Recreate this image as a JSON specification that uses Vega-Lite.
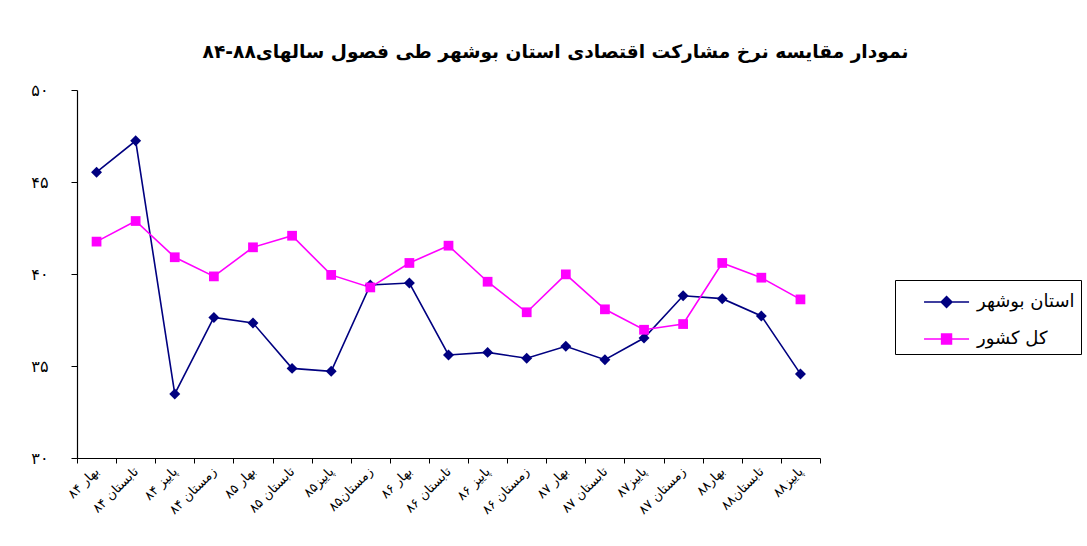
{
  "$schema": "https://vega.github.io/schema/vega-lite/v6.json",
  "autosize": {"type": "none"},
  "padding": {"left": 77, "top": 90, "right": 267, "bottom": 88},
  "width": 743,
  "height": 368,
  "background": "white",
  "config": {
    "font": "DejaVu Sans",
    "view": {"stroke": null},
    "axis": {"grid": false, "domainColor": "#000", "tickColor": "#000", "labelColor": "#000", "domainWidth": 1.2, "tickWidth": 1}
  },
  "title": {
    "text": "نمودار مقایسه نرخ مشارکت اقتصادی استان بوشهر طی فصول سالهای۸۸-۸۴",
    "fontSize": 18.6,
    "fontWeight": "bold",
    "color": "#000",
    "anchor": "middle",
    "dx": 107,
    "offset": 20,
    "font": "DejaVu Sans"
  },
  "data": {
    "values": [
      {"q": "بهار ۸۴", "s": "استان بوشهر", "v": 45.53},
      {"q": "تابستان ۸۴", "s": "استان بوشهر", "v": 47.24},
      {"q": "پاییز ۸۴", "s": "استان بوشهر", "v": 33.48},
      {"q": "زمستان ۸۴", "s": "استان بوشهر", "v": 37.64},
      {"q": "بهار ۸۵", "s": "استان بوشهر", "v": 37.34},
      {"q": "تابستان ۸۵", "s": "استان بوشهر", "v": 34.87},
      {"q": "پاییز۸۵", "s": "استان بوشهر", "v": 34.71},
      {"q": "زمستان۸۵", "s": "استان بوشهر", "v": 39.40},
      {"q": "بهار ۸۶", "s": "استان بوشهر", "v": 39.51},
      {"q": "تابستان ۸۶", "s": "استان بوشهر", "v": 35.60},
      {"q": "پاییز ۸۶", "s": "استان بوشهر", "v": 35.74},
      {"q": "زمستان ۸۶", "s": "استان بوشهر", "v": 35.42},
      {"q": "بهار ۸۷", "s": "استان بوشهر", "v": 36.07},
      {"q": "تابستان ۸۷", "s": "استان بوشهر", "v": 35.34},
      {"q": "پاییز۸۷", "s": "استان بوشهر", "v": 36.52},
      {"q": "زمستان ۸۷", "s": "استان بوشهر", "v": 38.82},
      {"q": "بهار۸۸", "s": "استان بوشهر", "v": 38.66},
      {"q": "تابستان۸۸", "s": "استان بوشهر", "v": 37.72},
      {"q": "پاییز۸۸", "s": "استان بوشهر", "v": 34.57},
      {"q": "بهار ۸۴", "s": "کل کشور", "v": 41.76},
      {"q": "تابستان ۸۴", "s": "کل کشور", "v": 42.88},
      {"q": "پاییز ۸۴", "s": "کل کشور", "v": 40.91},
      {"q": "زمستان ۸۴", "s": "کل کشور", "v": 39.87},
      {"q": "بهار ۸۵", "s": "کل کشور", "v": 41.45},
      {"q": "تابستان ۸۵", "s": "کل کشور", "v": 42.08},
      {"q": "پاییز۸۵", "s": "کل کشور", "v": 39.95},
      {"q": "زمستان۸۵", "s": "کل کشور", "v": 39.27},
      {"q": "بهار ۸۶", "s": "کل کشور", "v": 40.60},
      {"q": "تابستان ۸۶", "s": "کل کشور", "v": 41.54},
      {"q": "پاییز ۸۶", "s": "کل کشور", "v": 39.58},
      {"q": "زمستان ۸۶", "s": "کل کشور", "v": 37.92},
      {"q": "بهار ۸۷", "s": "کل کشور", "v": 39.98},
      {"q": "تابستان ۸۷", "s": "کل کشور", "v": 38.08},
      {"q": "پاییز۸۷", "s": "کل کشور", "v": 36.97},
      {"q": "زمستان ۸۷", "s": "کل کشور", "v": 37.28},
      {"q": "بهار۸۸", "s": "کل کشور", "v": 40.60},
      {"q": "تابستان۸۸", "s": "کل کشور", "v": 39.80},
      {"q": "پاییز۸۸", "s": "کل کشور", "v": 38.62}
    ]
  },
  "encoding": {
    "x": {
      "field": "q", "type": "nominal", "sort": null,
      "scale": {"type": "band", "paddingInner": 0, "paddingOuter": 0},
      "axis": {"title": null, "labelAngle": -45, "labelAlign": "right", "labelBaseline": "middle", "labelFontSize": 13, "labelPadding": 6, "tickBand": "extent", "tickSize": 5, "labelOverlap": false}
    },
    "y": {
      "field": "v", "type": "quantitative",
      "scale": {"domain": [30, 50], "nice": false, "zero": false},
      "axis": {"title": null, "values": [30, 35, 40, 45, 50], "tickSize": 6, "labelPadding": 23, "labelFontSize": 16, "labelFont": "DejaVu Sans",
        "labelExpr": "datum.value == 30 ? '۳۰' : datum.value == 35 ? '۳۵' : datum.value == 40 ? '۴۰' : datum.value == 45 ? '۴۵' : '۵۰'"}
    },
    "color": {
      "field": "s", "type": "nominal",
      "scale": {"domain": ["استان بوشهر", "کل کشور"], "range": ["#000080", "#FF00FF"]},
      "legend": {
        "title": null, "orient": "none", "legendX": 818, "legendY": 190,
        "strokeColor": "#000", "fillColor": "white", "padding": 6,
        "labelFontSize": 18, "labelColor": "#000", "labelOffset": 44,
        "symbolSize": 900, "rowPadding": 12, "symbolStrokeWidth": 1.5,
        "symbolType": "M-1,0H1",
        "encode": {
          "symbols": {
            "update": {
              "shape": {"signal": "datum.value === 'استان بوشهر' ? 'M0.47,0H3.47M1.97,-0.36L2.33,0L1.97,0.36L1.61,0Z' : 'M0.47,0H3.47M1.64,-0.33H2.3V0.33H1.64Z'"},
              "fill": {"signal": "datum.value === 'استان بوشهر' ? '#000080' : '#FF00FF'"},
              "stroke": {"signal": "datum.value === 'استان بوشهر' ? '#000080' : '#FF00FF'"},
              "strokeWidth": {"value": 1.5},
              "opacity": {"value": 1},
              "fillOpacity": {"value": 1}
            }
          }
        }
      }
    }
  },
  "layer": [
    {"mark": {"type": "line", "strokeWidth": 1.6}},
    {
      "transform": [{"filter": "datum.s === 'استان بوشهر'"}],
      "mark": {"type": "point", "filled": true, "opacity": 1, "shape": "diamond", "size": 120}
    },
    {
      "transform": [{"filter": "datum.s === 'کل کشور'"}],
      "mark": {"type": "point", "filled": true, "opacity": 1, "shape": "square", "size": 95}
    }
  ]
}
